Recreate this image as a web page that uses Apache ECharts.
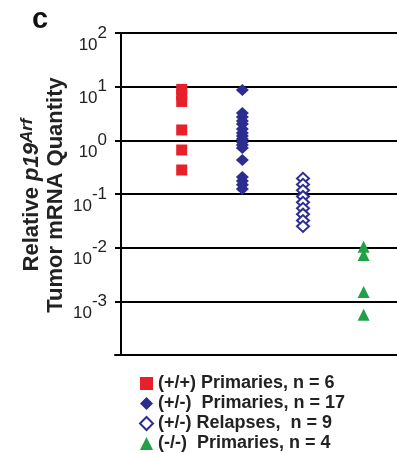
<!DOCTYPE html>
<html>
<head>
<meta charset="utf-8">
<script src="https://cdn.jsdelivr.net/npm/echarts@6/dist/echarts.min.js"></script>
<style>
  html, body { margin: 0; padding: 0; background: #fff; }
  #chart { width: 397px; height: 453px; }
</style>
</head>
<body>
<div id="chart"></div>
<script>
// legend names, one per group
var groupNames = [
  '(+/+) Primaries, n = 6',
  '(+/-)  Primaries, n = 17',
  '(+/-) Relapses,  n = 9',
  '(-/-)  Primaries, n = 4'
];
// column position of each group on the hidden x axis
var groupX = [1, 2, 3, 4];

// relative p19Arf quantity
var wtPrimaries = [8.9, 7.0, 5.3, 1.56, 0.66, 0.28];
var hetPrimaries = [8.7, 3.24, 2.73, 2.3, 2.02, 1.63, 1.37, 1.21, 1.06, 0.93, 0.82, 0.72, 0.43, 0.208, 0.175, 0.148, 0.124];
var hetRelapses = [0.195, 0.151, 0.117, 0.09, 0.07, 0.054, 0.042, 0.032, 0.025];
var nullPrimaries = [0.0104, 0.0073, 0.0015, 0.00056];

// y ticks shown (exponents of 10)
var tickExps = [2, 1, 0, -1, -2, -3];

var chart = echarts.init(document.getElementById('chart'));

function pts(x, vals) {
  return vals.map(function (v) { return [x, v]; });
}

var option = {
  animation: false,
  textStyle: { fontFamily: 'Liberation Sans, Arial, sans-serif' },
  title: {
    text: 'c',
    left: 27,
    top: 0,
    textStyle: { fontSize: 29, fontWeight: 'bold', color: '#111' }
  },
  grid: { left: 115, right: 0, top: 33, bottom: 98 },
  legend: {
    orient: 'vertical',
    left: 134,
    top: 369,
    height: 90,
    itemWidth: 13,
    itemHeight: 13,
    itemGap: 1,
    textStyle: { fontSize: 18, fontWeight: 'bold', color: '#222', lineHeight: 19 },
    data: groupNames
  },
  xAxis: {
    type: 'value',
    min: -0.1,
    max: 4.55,
    axisLine: { show: true, lineStyle: { color: '#000', width: 2 } },
    axisTick: { show: false },
    axisLabel: { show: false },
    splitLine: { show: false }
  },
  yAxis: {
    type: 'log',
    logBase: 10,
    min: 0.0001,
    max: 100,
    axisLine: { show: true, lineStyle: { color: '#000', width: 2 } },
    axisTick: { show: true, length: 5, lineStyle: { color: '#000', width: 2 } },
    splitLine: { show: true, lineStyle: { color: '#000', width: 2 } },
    axisLabel: {
      margin: 8,
      formatter: function (v) {
        var e = Math.round(Math.log10(v));
        if (tickExps.indexOf(e) < 0) return '';
        return '{b|10}{s|' + e + '}';
      },
      rich: {
        b: { fontSize: 17, color: '#222', padding: [24, 0, 0, 0] },
        s: { fontSize: 17, color: '#222' }
      }
    }
  },
  graphic: [{
    type: 'text',
    x: 44,
    y: 195,
    rotation: Math.PI / 2,
    style: {
      text: 'Relative {i|p19}{a|Arf}\nTumor mRNA Quantity',
      align: 'center',
      verticalAlign: 'middle',
      fontSize: 22,
      fontWeight: 'bold',
      lineHeight: 24,
      fill: '#222',
      fontFamily: 'Liberation Sans, Arial, sans-serif',
      rich: {
        i: { fontSize: 22, fontWeight: 'bold', fontStyle: 'italic', fill: '#222' },
        a: { fontSize: 17, fontWeight: 'bold', fontStyle: 'italic', fill: '#222', padding: [0, 0, 10, 0] }
      }
    }
  }],
  series: [
    {
      name: groupNames[0],
      type: 'scatter',
      symbol: 'rect',
      symbolSize: 11,
      itemStyle: { color: '#E8202A', opacity: 1 },
      data: pts(groupX[0], wtPrimaries)
    },
    {
      name: groupNames[1],
      type: 'scatter',
      symbol: 'diamond',
      symbolSize: [13, 12],
      itemStyle: { color: '#2B2D91', opacity: 1 },
      data: pts(groupX[1], hetPrimaries)
    },
    {
      name: groupNames[2],
      type: 'scatter',
      symbol: 'diamond',
      symbolSize: [12, 11],
      itemStyle: { color: '#fff', borderColor: '#2B2D91', borderWidth: 2, opacity: 1 },
      data: pts(groupX[2], hetRelapses)
    },
    {
      name: groupNames[3],
      type: 'scatter',
      symbol: 'triangle',
      symbolSize: 12,
      itemStyle: { color: '#22A045', opacity: 1 },
      data: pts(groupX[3], nullPrimaries)
    }
  ]
};

chart.setOption(option);
</script>
</body>
</html>
